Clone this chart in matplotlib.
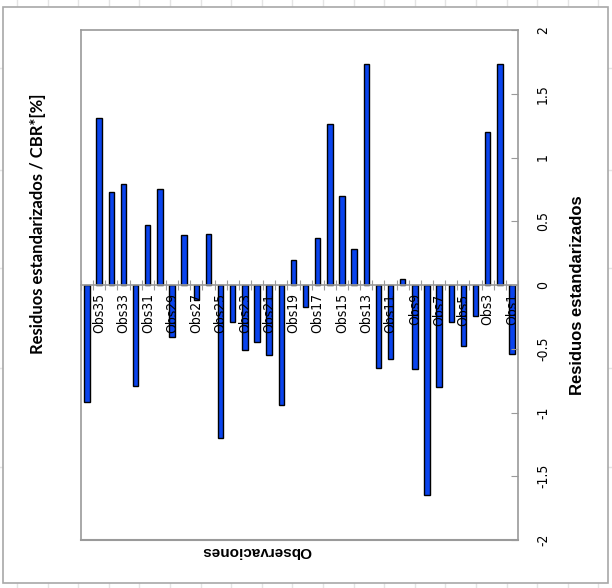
import matplotlib.pyplot as plt
import numpy as np
from matplotlib.patches import Rectangle

# observations, left to right as in the picture (Obs36 ... Obs1)
obs_labels = ['Obs%d' % i for i in range(36, 0, -1)]
residuals = [-0.92, 1.31, 0.73, 0.79, -0.79, 0.47, 0.75, -0.41, 0.39, -0.12,
             0.40, -1.20, -0.29, -0.51, -0.45, -0.55, -0.94, 0.20, -0.17, 0.37,
             1.26, 0.70, 0.28, 1.73, -0.65, -0.58, 0.05, -0.66, -1.65, -0.80,
             -0.29, -0.48, -0.24, 1.20, 1.73, -0.54]
value_ticks = [-2, -1.5, -1, -0.5, 0, 0.5, 1, 1.5, 2]

gray = '#9a9a9a'

fig = plt.figure(figsize=(6.12, 5.88), dpi=100)
fig.patch.set_facecolor('white')

# faint spreadsheet cells around the chart box
for x in np.arange(17, 612, 30.6):
    fig.add_artist(plt.Line2D([x / 612, x / 612], [0, 1], color='#e4e4e4', lw=1, zorder=0))
for y in [68, 170, 268, 368, 467]:
    fig.add_artist(plt.Line2D([0, 1], [1 - y / 588, 1 - y / 588], color='#e4e4e4', lw=1, zorder=0))
fig.add_artist(Rectangle((3 / 612, 1 - 583 / 588), 605 / 612, 576 / 588,
                         transform=fig.transFigure, facecolor='white',
                         edgecolor='#a8a8a8', lw=1.2, zorder=1))

ax = fig.add_axes([81 / 612, 48 / 588, 437 / 612, 510 / 588], zorder=2)
x = np.arange(len(residuals))
# bars under the tick labels, as in the original
ax.bar(x, residuals, width=0.45, color='#0a44ee', edgecolor='black', linewidth=1, zorder=2)
ax.set_axisbelow(False)

ax.set_xlim(-0.5, len(residuals) - 0.5)
ax.set_ylim(-2, 2)

# category axis runs through zero
ax.spines['bottom'].set_position(('data', 0))
for s in ['bottom', 'top', 'left', 'right']:
    ax.spines[s].set_color(gray)
    ax.spines[s].set_linewidth(1.2)
ax.plot([0, 1], [0, 0], transform=ax.transAxes, color=gray, lw=1.5, clip_on=False)

ax.set_xticks(np.arange(-0.5, len(residuals), 1))
ax.set_xticklabels([])
ax.tick_params(axis='x', which='major', direction='inout', length=7, color=gray)
ax.set_xticks(x[1::2], minor=True)
ax.set_xticklabels(obs_labels[1::2], minor=True, rotation=90, va='top',
                   family='DejaVu Sans', fontstretch='condensed', fontsize=10)
ax.tick_params(axis='x', which='minor', length=0, pad=6)

ax.yaxis.tick_right()
ax.set_yticks(value_ticks)
ax.set_yticklabels([('%g' % v) for v in value_ticks], rotation=90, va='center',
                   family='DejaVu Sans', fontstretch='condensed', fontsize=10)
ax.tick_params(axis='y', direction='in', length=5, color=gray, pad=13)

fig.text(577 / 612, 1 - 295 / 588, 'Residuos estandarizados', rotation=90,
         ha='center', va='center', fontsize=12, fontweight='bold',
         family='Liberation Sans')
fig.text(38 / 612, 1 - 224 / 588, 'Residuos estandarizados / CBR*[%]', rotation=90,
         ha='center', va='center', fontsize=12, fontweight='bold', family='Lato')
fig.text(256 / 612, 1 - 551 / 588, 'Observaciones', rotation=180,
         ha='center', va='center', fontsize=11, fontweight='bold',
         family='Liberation Sans')

fig.savefig('out.png', dpi=100)
